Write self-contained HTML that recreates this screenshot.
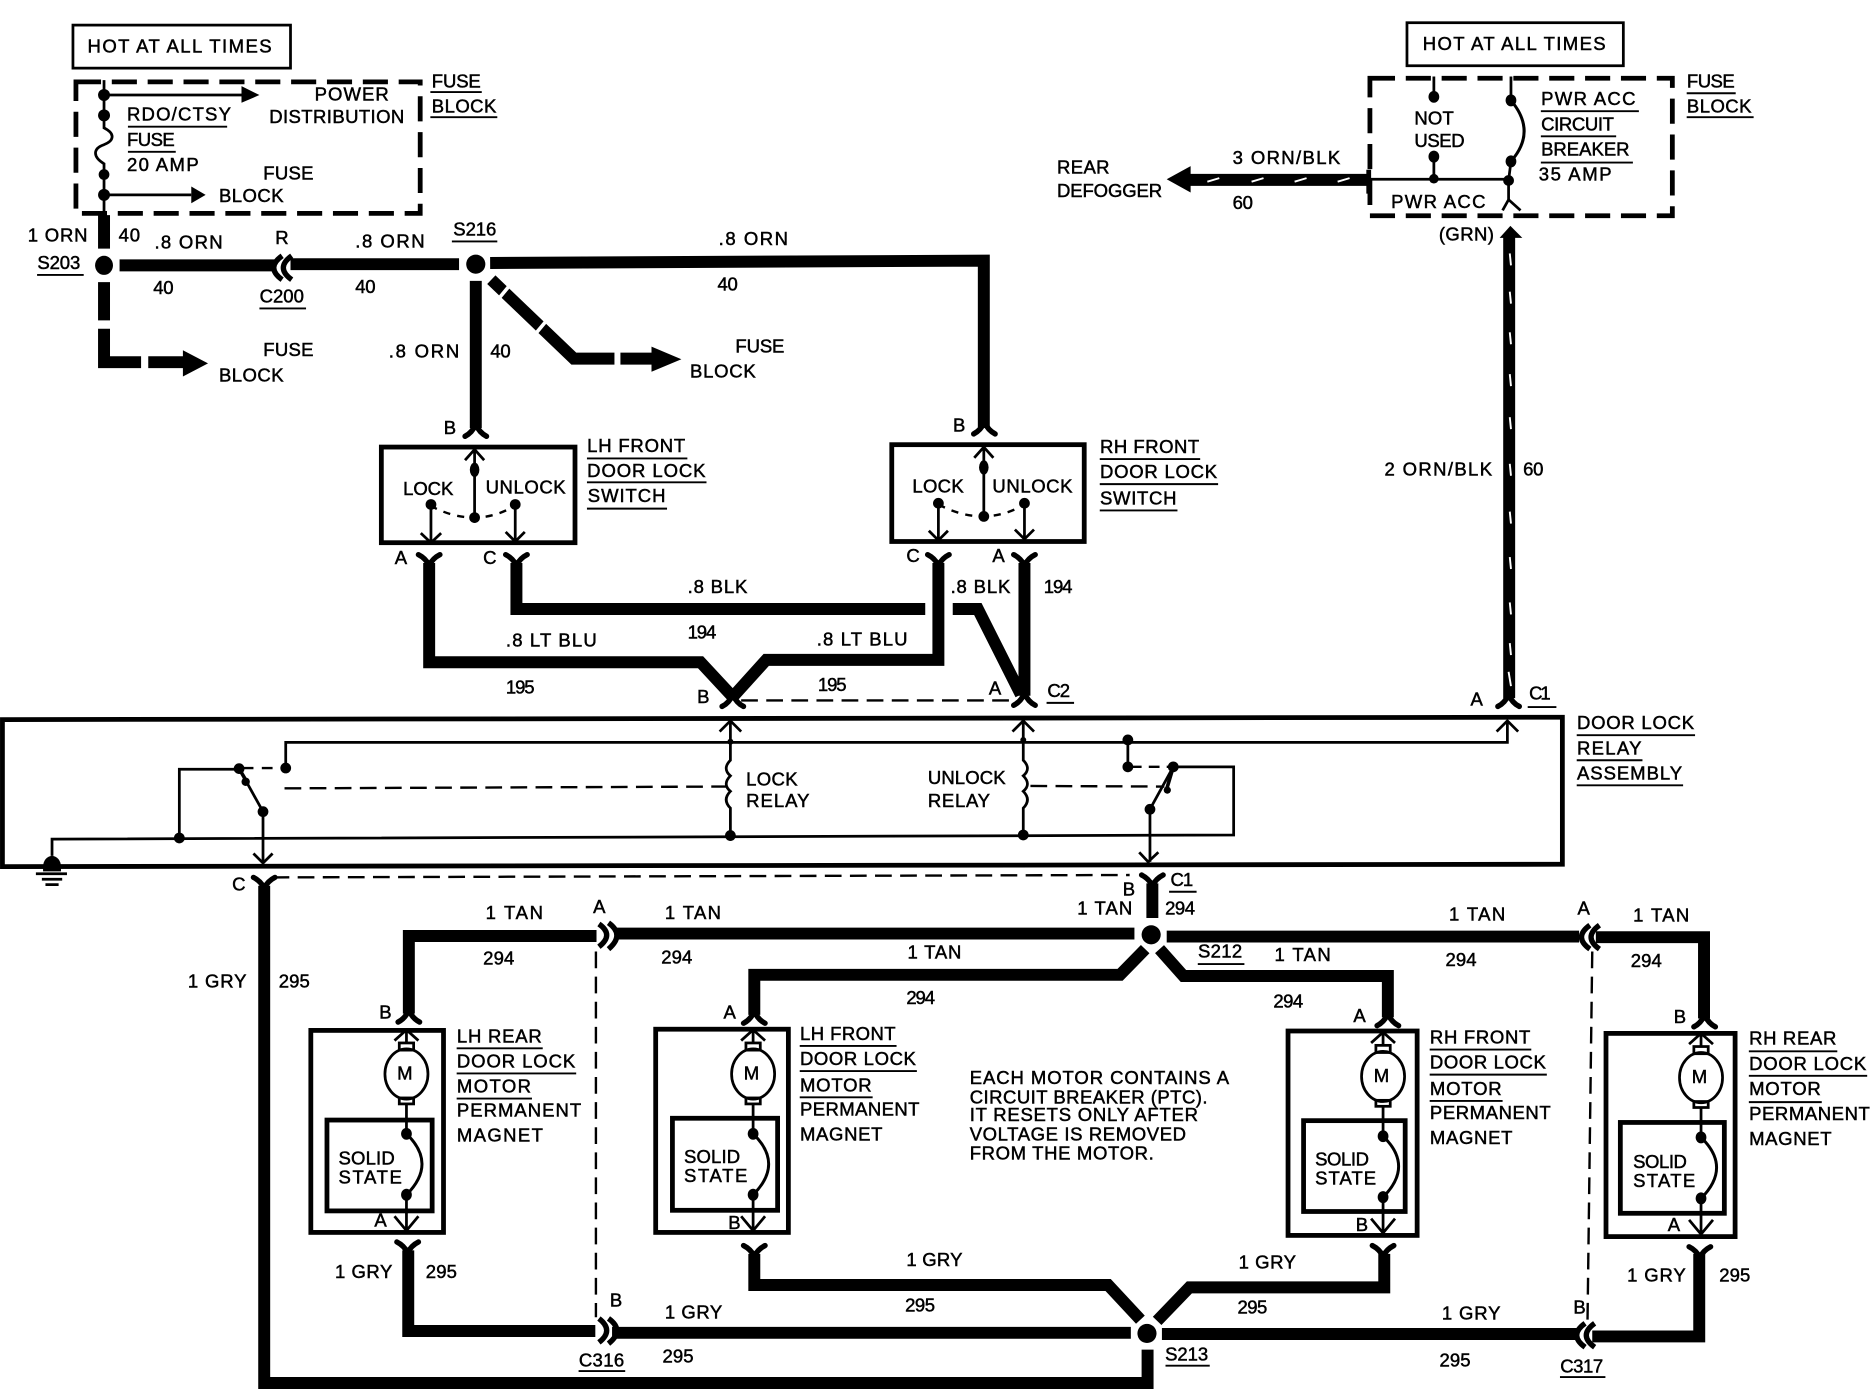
<!DOCTYPE html>
<html><head><meta charset="utf-8"><title>Door lock wiring diagram</title>
<style>
html,body{margin:0;padding:0;background:#fff}
svg{display:block}
text{font-family:"Liberation Sans",sans-serif;font-size:15.5px;fill:#000;stroke:#000;stroke-width:.4;transform:translate(-.8px,-1px)}
.w{fill:none;stroke:#000;stroke-width:10;stroke-linejoin:miter}
.t{fill:none;stroke:#000;stroke-width:2.3}
.b{fill:none;stroke:#000;stroke-width:4}
.d{fill:none;stroke:#000;stroke-width:2;stroke-dasharray:14 7}
.k{fill:none;stroke:#000;stroke-width:4;stroke-dasharray:21 9}
.u{fill:none;stroke:#000;stroke-width:1.6}
.f{fill:none;stroke:#000;stroke-width:4.5;stroke-linecap:round;stroke-linejoin:round}
.c{fill:none;stroke:#000;stroke-width:4.5}
.tick{stroke:#fff;stroke-width:1.6;fill:none}
.gap{stroke:#fff;stroke-width:3;fill:none}
</style></head><body>
<svg xmlns="http://www.w3.org/2000/svg" width="1872" height="1392" viewBox="0 0 1566 1164.5">
<rect width="1566" height="1165" fill="#fff"/>
<defs>
<path id="fd" class="f" d="M-9,7Q-3,4 0,-3Q3,4 9,7"/>
<path id="fu" class="f" d="M-9,-6Q-3,-3 0,3Q3,-3 9,-6"/>
<g id="m">
<ellipse class="t" rx="18" ry="21"/>
<rect class="t" x="-6" y="-26" width="12" height="6"/>
<rect class="t" x="-6" y="20" width="12" height="5"/>
<path class="t" d="M0,-37V-26M0,25V50M0,101V131M-10,-28L0,-37L10,-28M-10,119L0,131L10,119"/>
<path class="t" style="stroke-width:2.5" d="M0,50Q26,75 0,101"/>
<ellipse cx="0" cy="50" rx="4.500" ry="5"/>
<ellipse cx="0" cy="101" rx="4.500" ry="5"/>
</g>
</defs>

<!-- top-left fuse block -->
<rect class="t" x="61" y="21" width="182" height="36"/>
<rect class="k" x="63.500" y="68.500" width="288" height="110"/>
<path class="t" d="M87,67V107C97,112 95,118 87,121C78,124 77,131 87,137V180"/>
<circle cx="87" cy="79.500" r="5"/><circle cx="87" cy="96.500" r="5"/><circle cx="87" cy="146" r="4.500"/><circle cx="87" cy="163" r="5"/>
<path class="t" d="M87,79.500H204M87,163H160"/>
<path d="M202,72L217,79.500L202,86Z"/><path d="M160,156L172,163L160,170Z"/>
<text x="74" y="45" textLength="154">HOT AT ALL TIMES</text>
<text x="107" y="102" textLength="87">RDO/CTSY</text><path class="u" d="M107,106H190"/>
<text x="107" y="123" textLength="40">FUSE</text><path class="u" d="M107,127H147"/>
<text x="107" y="144" textLength="60">20 AMP</text>
<text x="264" y="85" textLength="62">POWER</text>
<text x="226" y="104" textLength="113">DISTRIBUTION</text>
<text x="221" y="151" textLength="42">FUSE</text>
<text x="184" y="170" textLength="54">BLOCK</text>
<text x="362" y="74" textLength="41">FUSE</text><path class="u" d="M360,77H403"/>
<text x="362" y="95" textLength="54">BLOCK</text><path class="u" d="M360,98H416"/>

<!-- S203 / S216 -->
<path class="w" d="M87,180V208"/>
<ellipse cx="87" cy="222" rx="7.500" ry="8"/>
<path class="w" d="M100,222H231"/>
<path class="c" d="M236,214Q222,224 236,234M244,214Q230,224 244,234"/>
<path class="w" d="M243,221H384"/>
<circle cx="398" cy="221" r="8"/>
<path class="w" d="M410,220L823,218V358"/>
<path class="w" d="M398,235V358"/>
<path class="w" d="M87,236V268M87,275V303H118"/>
<path class="w" d="M124,303H155"/><path d="M153,293L174,304L153,315Z"/>
<path class="w" d="M411,234L480,300H514"/>
<path class="gap" d="M427,238L417,250M459,266L449,278"/>
<path class="w" d="M519,300H547"/><path d="M545,290L570,300.500L545,311Z"/>
<use href="#fd" x="398" y="358"/><use href="#fd" x="823.500" y="356"/>
<text x="24" y="203" textLength="50">1 ORN</text>
<text x="100" y="203" textLength="18">40</text>
<text x="130" y="209" textLength="57">.8 ORN</text>
<text x="129" y="247" textLength="17">40</text>
<text x="231" y="205" textLength="11">R</text>
<text x="298" y="208" textLength="58">.8 ORN</text>
<text x="380" y="198" textLength="36">S216</text><path class="u" d="M378,202H416"/>
<text x="218" y="254" textLength="37">C200</text><path class="u" d="M217,258H256"/>
<text x="298" y="246" textLength="17">40</text>
<text x="32" y="226" textLength="36">S203</text><path class="u" d="M31,230H70"/>
<text x="602" y="206" textLength="58">.8 ORN</text>
<text x="601" y="244" textLength="17">40</text>
<text x="326" y="300" textLength="59">.8 ORN</text>
<text x="411" y="300" textLength="17">40</text>
<text x="221" y="299" textLength="42">FUSE</text>
<text x="184" y="320" textLength="54">BLOCK</text>
<text x="616" y="296" textLength="41">FUSE</text>
<text x="578" y="317" textLength="55">BLOCK</text>

<!-- switches -->
<rect class="b" x="319" y="374" width="162" height="80"/>
<rect class="b" x="746" y="372" width="161" height="81"/>
<path class="t" d="M397,376V433M389,385L397,376L405,385M360.500,422V454M352,446L360.500,454L369,446M431,422V453M423,445L431,453L439,445"/>
<path class="d" style="stroke-dasharray:6 6" d="M360,423Q397,443 431,423"/>
<ellipse cx="397" cy="393" rx="4" ry="6"/><circle cx="397" cy="433" r="4.500"/><circle cx="360.500" cy="422" r="4.500"/><circle cx="431" cy="422" r="4.500"/>
<path class="t" d="M823,374V432M815,383L823,374L831,383M785,421V452M777,444L785,452L793,444M857,421V451M849,443L857,451L865,443"/>
<path class="d" style="stroke-dasharray:6 6" d="M785,422Q823,442 857,422"/>
<ellipse cx="823" cy="391" rx="4" ry="6"/><circle cx="823" cy="432" r="4.500"/><circle cx="785" cy="421" r="4.500"/><circle cx="857" cy="421" r="4.500"/>
<text x="372" y="364" textLength="10">B</text><text x="798" y="362" textLength="10">B</text>
<text x="338" y="415" textLength="42">LOCK</text><text x="407" y="414" textLength="67">UNLOCK</text>
<text x="764" y="413" textLength="43">LOCK</text><text x="831" y="413" textLength="67">UNLOCK</text>
<text x="331" y="473" textLength="10">A</text><text x="405" y="473" textLength="9">C</text>
<text x="759" y="471" textLength="9">C</text><text x="831" y="471" textLength="10">A</text>
<text x="492" y="379" textLength="82">LH FRONT</text><path class="u" d="M491,383.500H575"/>
<text x="492" y="400" textLength="99">DOOR LOCK</text><path class="u" d="M491,403.500H591"/>
<text x="492.500" y="421" textLength="65">SWITCH</text><path class="u" d="M491,425.500H558"/>
<text x="921" y="380" textLength="83">RH FRONT</text><path class="u" d="M920,384H1004"/>
<text x="921" y="401" textLength="98">DOOR LOCK</text><path class="u" d="M920,405H1019"/>
<text x="921" y="423" textLength="64">SWITCH</text><path class="u" d="M920,427H985"/>

<!-- mid wires -->
<use href="#fu" x="359" y="470"/><use href="#fu" x="432" y="470"/><use href="#fu" x="785" y="470"/><use href="#fu" x="857" y="470"/>
<path class="w" d="M359,471V554H586L613,583"/>
<path class="w" d="M613,583L641,552H785V471"/>
<path class="w" d="M432,471V509.500H774"/>
<path class="w" d="M797,509.500H818L854,581"/>
<path class="w" d="M857,471V582"/>
<use href="#fd" x="613" y="584"/><use href="#fd" x="857" y="583"/>
<path class="d" d="M620,586H850"/>
<text x="576" y="497" textLength="50">.8 BLK</text>
<text x="576" y="535" textLength="24">194</text>
<text x="424" y="542" textLength="76">.8 LT BLU</text>
<text x="424" y="581" textLength="24">195</text>
<text x="684" y="541" textLength="76">.8 LT BLU</text>
<text x="685" y="579" textLength="24">195</text>
<text x="796" y="497" textLength="50">.8 BLK</text>
<text x="874" y="497" textLength="24">194</text>
<text x="584" y="589" textLength="9">B</text>
<text x="828" y="582" textLength="10">A</text>
<text x="877" y="584" textLength="19">C2</text><path class="u" d="M875.500,588H898.500"/>

<!-- relay assembly -->
<path class="b" d="M2,602L1307,600V723L2,725Z"/>
<path class="t" d="M239,642V621H1261V604M1252,612L1261,603L1270,612"/>
<path class="t" d="M150,701V643.500H200"/>
<path class="t" d="M43.500,716V702L1032,698.500V641.500H981.500"/>
<path class="d" style="stroke-dasharray:9 7" d="M203,642.500H239"/>
<path class="d" d="M238,659.500L608,658"/>
<path class="d" d="M862,657.500L974,658"/>
<path class="d" style="stroke-dasharray:9 6" d="M946,641.500H981"/>
<path class="t" d="M200,643L220,679V722M212,714L220,722L228,714"/>
<path class="t" style="stroke-width:3" d="M200,643L207,655"/>
<path class="t" d="M943.500,619V641.500M981.500,641.500L962,677V721M953,713L960.500,721L969,713"/>
<path class="t" style="stroke-width:3" d="M981.500,641.500L976,660"/>
<circle cx="200" cy="643" r="4.500"/><circle cx="205.500" cy="654" r="3.500"/><circle cx="220" cy="679" r="4.500"/><circle cx="239" cy="642.500" r="4.500"/><circle cx="150" cy="701" r="4.500"/>
<circle cx="943.500" cy="619" r="4.500"/><circle cx="943.500" cy="641.500" r="4.500"/><circle cx="981.500" cy="641.500" r="4.500"/><circle cx="976.500" cy="661" r="3"/><circle cx="962" cy="677" r="4.500"/>
<path class="t" d="M611,603V636q-7,7 0,13q-7,7 0,13q-7,7 0,14V699M602,612L611,603L620,612"/>
<path class="t" d="M856,603V636q7,7 0,13q7,7 0,13q7,7 0,14V699M847,612L856,603L865,612"/>
<circle cx="611" cy="699" r="4.500"/><circle cx="856" cy="698.500" r="4.500"/><circle cx="611" cy="620.500" r="2.500"/><circle cx="856" cy="619" r="2.500"/>
<path d="M36,725A7.500,9 0 0 1 51,725L51,729H36Z"/>
<path class="t" d="M30,731H56M35,735.500H52M38,740H49"/>
<text x="625" y="658" textLength="43">LOCK</text><text x="625" y="676" textLength="53">RELAY</text>
<text x="777" y="657" textLength="65">UNLOCK</text><text x="777" y="676" textLength="52">RELAY</text>
<text x="1320" y="611" textLength="98">DOOR LOCK</text><path class="u" d="M1319,615H1418"/>
<text x="1320" y="632" textLength="54">RELAY</text><path class="u" d="M1319,636H1374"/>
<text x="1320" y="653" textLength="88">ASSEMBLY</text><path class="u" d="M1319,657H1408"/>
<text x="1280" y="586" textLength="18">C1</text><path class="u" d="M1278,591.500H1302"/>
<text x="1231" y="591" textLength="10">A</text>

<!-- top-right fuse block -->
<rect class="t" x="1177" y="19" width="181" height="36"/>
<rect class="k" x="1146" y="65.500" width="253" height="115"/>
<text x="1191" y="43" textLength="153">HOT AT ALL TIMES</text>
<path class="t" d="M1199.500,64V81M1199.500,131V150M1145,150H1262M1264,64V84"/>
<path class="t" style="stroke-width:2.500" d="M1264,84Q1286,110 1264,135"/>
<path class="t" d="M1264,135L1262,151V167M1257,176L1262,167L1272,176"/>
<ellipse cx="1199.500" cy="81" rx="4.500" ry="5"/><ellipse cx="1199.500" cy="131" rx="4.500" ry="5"/><circle cx="1199.500" cy="149.500" r="4"/>
<ellipse cx="1264" cy="84" rx="4.500" ry="5"/><ellipse cx="1264" cy="135" rx="4.500" ry="5"/><circle cx="1262" cy="151" r="4.500"/>
<text x="1184" y="105" textLength="33">NOT</text>
<text x="1184" y="124" textLength="42">USED</text>
<text x="1164.500" y="175" textLength="79">PWR ACC</text>
<text x="1290" y="89" textLength="79">PWR ACC</text><path class="u" d="M1289,93H1371"/>
<text x="1290" y="110" textLength="61">CIRCUIT</text><path class="u" d="M1289,114H1352"/>
<text x="1290" y="131" textLength="74">BREAKER</text><path class="u" d="M1289,136H1366"/>
<text x="1288" y="152" textLength="61">35 AMP</text>
<text x="1412" y="74" textLength="40">FUSE</text><path class="u" d="M1411,78H1452"/>
<text x="1412" y="95" textLength="54">BLOCK</text><path class="u" d="M1411,98H1467"/>
<!-- defogger wire -->
<path class="w" d="M995,150.500H1144"/><path d="M976,150L996,139V161Z"/>
<path class="b" d="M1145,142V162"/>
<path class="tick" d="M1010,152L1020,149M1047,152L1057,149M1083,152L1093,149M1119,152L1129,149"/>
<text x="1032" y="138" textLength="90">3 ORN/BLK</text>
<text x="1032" y="176" textLength="17">60</text>
<text x="885" y="146" textLength="44">REAR</text>
<text x="885" y="166" textLength="88">DEFOGGER</text>
<!-- vertical orn/blk -->
<path class="w" d="M1262.500,197V584"/>
<path d="M1263.500,189L1273.500,199H1254.500Z"/>
<path class="tick" d="M1263,212L1264,222M1263,244L1264,254M1263,278L1264,288M1263,313L1264,323M1263,349L1264,359M1263,388L1264,398M1263,428L1264,438M1263,466L1264,476M1263,504L1264,514M1263,538L1264,548M1262,562L1264,574"/>
<use href="#fd" x="1262" y="584"/>
<text x="1204.500" y="202" textLength="46">(GRN)</text>
<text x="1159" y="399" textLength="90">2 ORN/BLK</text>
<text x="1275" y="399" textLength="17">60</text>

<!-- lower wires -->
<path class="d" d="M228,734L945,732"/>
<use href="#fu" x="221" y="740"/>
<path class="w" d="M221,741V1157H960V1129"/>
<use href="#fu" x="964" y="738"/>
<path class="w" d="M964,739V768"/>
<circle cx="963" cy="782" r="8"/>
<path class="w" d="M949,781H514"/>
<path class="c" d="M501,773Q514,782 501,792M509,772Q523,782 509,794"/>
<path class="w" d="M499,783H342V848"/>
<use href="#fd" x="342" y="848"/>
<path class="d" d="M498.500,796V1102"/>
<path class="w" d="M958,794L937,815.500H631V849"/>
<use href="#fd" x="631" y="849"/>
<path class="w" d="M970,794L990,816.500H1161V851"/>
<use href="#fd" x="1161" y="851"/>
<path class="w" d="M976,783.500H1321"/>
<path class="c" d="M1330,774Q1316,784 1330,794M1338,774Q1324,784 1338,794"/>
<path class="w" d="M1335,784H1425.500V852"/>
<use href="#fd" x="1426" y="852"/>
<path class="d" d="M1332,796L1328,1108"/>

<use href="#fu" x="341" y="1045"/>
<path class="w" d="M341.500,1046V1113.500H498"/>
<path class="c" d="M501,1103Q514,1113 501,1123M509,1103Q523,1113 509,1124"/>
<path class="w" d="M512,1115H946"/>
<circle cx="959.500" cy="1115.500" r="8"/>
<path class="w" d="M972,1116H1319"/>
<path class="c" d="M1326,1107Q1312,1117 1326,1127M1334,1107Q1320,1117 1334,1127"/>
<path class="w" d="M1332,1118H1421.500V1049"/>
<use href="#fu" x="1422" y="1049"/>
<use href="#fu" x="631" y="1048"/>
<path class="w" d="M631,1049V1075H927L954,1104"/>
<use href="#fu" x="1157" y="1048"/>
<path class="w" d="M968,1105L995,1077H1158V1049"/>

<!-- motors -->
<rect class="b" x="260" y="862" width="111" height="169"/>
<rect class="b" x="273.500" y="937" width="88" height="76"/>
<use href="#m" x="340" y="898.500"/>
<rect class="b" x="548.500" y="861" width="111" height="170"/>
<rect class="b" x="562.500" y="935.500" width="88" height="77"/>
<use href="#m" x="630" y="898.500"/>
<rect class="b" x="1077.500" y="862.500" width="108" height="171"/>
<rect class="b" x="1090.500" y="937.500" width="85" height="76"/>
<use href="#m" x="1157" y="900.500"/>
<rect class="b" x="1343.500" y="864.500" width="108" height="170"/>
<rect class="b" x="1355.500" y="939" width="87" height="76"/>
<use href="#m" x="1423" y="901.500"/>
<text x="333" y="904" textLength="14">M</text>
<text x="623" y="904" textLength="14">M</text>
<text x="1150" y="906" textLength="14">M</text>
<text x="1416" y="907" textLength="14">M</text>
<text x="284" y="975" textLength="47">SOLID</text><text x="284" y="991" textLength="53">STATE</text>
<text x="573" y="974" textLength="47">SOLID</text><text x="573" y="990" textLength="53">STATE</text>
<text x="1101" y="976" textLength="45">SOLID</text><text x="1101" y="992" textLength="51">STATE</text>
<text x="1367" y="978" textLength="45">SOLID</text><text x="1367" y="994" textLength="52">STATE</text>
<text x="318" y="853" textLength="10">B</text><text x="314" y="1027" textLength="10">A</text>
<text x="606" y="853" textLength="10">A</text><text x="610" y="1029" textLength="9">B</text>
<text x="1133" y="856" textLength="10">A</text><text x="1135" y="1031" textLength="9">B</text>
<text x="1401" y="857" textLength="9">B</text><text x="1396" y="1031" textLength="10">A</text>

<text x="383" y="873" textLength="71">LH REAR</text><path class="u" d="M382,877H454"/>
<text x="383" y="894" textLength="99">DOOR LOCK</text><path class="u" d="M382,898H482"/>
<text x="383" y="915" textLength="62">MOTOR</text><path class="u" d="M382,919H445"/>
<text x="383" y="935" textLength="104">PERMANENT</text>
<text x="383" y="956" textLength="72">MAGNET</text>
<text x="670" y="871" textLength="80">LH FRONT</text><path class="u" d="M669,875H750"/>
<text x="670" y="892" textLength="97">DOOR LOCK</text><path class="u" d="M669,896H767"/>
<text x="670" y="914" textLength="60">MOTOR</text><path class="u" d="M669,918H730"/>
<text x="670" y="934" textLength="100">PERMANENT</text>
<text x="670" y="955" textLength="69">MAGNET</text>
<text x="1197" y="874" textLength="84">RH FRONT</text><path class="u" d="M1196,878H1281"/>
<text x="1197" y="895" textLength="97">DOOR LOCK</text><path class="u" d="M1196,899H1294"/>
<text x="1197" y="917" textLength="60">MOTOR</text><path class="u" d="M1196,921H1257"/>
<text x="1197" y="937" textLength="101">PERMANENT</text>
<text x="1197" y="958" textLength="69">MAGNET</text>
<text x="1464" y="875" textLength="73">RH REAR</text><path class="u" d="M1463,879.500H1537"/>
<text x="1464" y="896" textLength="98">DOOR LOCK</text><path class="u" d="M1463,900H1562"/>
<text x="1464" y="917" textLength="60">MOTOR</text><path class="u" d="M1463,922H1524"/>
<text x="1464" y="938" textLength="101">PERMANENT</text>
<text x="1464" y="959" textLength="69">MAGNET</text>

<text x="812" y="908" textLength="217">EACH MOTOR CONTAINS A</text>
<text x="812" y="924" textLength="199">CIRCUIT BREAKER (PTC).</text>
<text x="812" y="939" textLength="191">IT RESETS ONLY AFTER</text>
<text x="812" y="955" textLength="181">VOLTAGE IS REMOVED</text>
<text x="812" y="971" textLength="154">FROM THE MOTOR.</text>

<!-- lower labels -->
<text x="195" y="746" textLength="10">C</text>
<text x="158" y="827" textLength="49">1 GRY</text>
<text x="234" y="827" textLength="26">295</text>
<text x="407" y="770" textLength="48">1 TAN</text>
<text x="405" y="808" textLength="26">294</text>
<text x="497" y="765" textLength="11">A</text>
<text x="557" y="770" textLength="47">1 TAN</text>
<text x="554" y="807" textLength="26">294</text>
<text x="760" y="803" textLength="45">1 TAN</text>
<text x="759" y="841" textLength="24">294</text>
<text x="902" y="766" textLength="46">1 TAN</text>
<text x="975.500" y="766" textLength="25">294</text>
<text x="940" y="750" textLength="8">B</text>
<text x="980" y="742" textLength="19">C1</text><path class="u" d="M978,746H1001"/>
<text x="1003" y="802" textLength="37">S212</text><path class="u" d="M1002,806.500H1041"/>
<text x="1067" y="805" textLength="47">1 TAN</text>
<text x="1066" y="844" textLength="25">294</text>
<text x="1213" y="771" textLength="47">1 TAN</text>
<text x="1210" y="809" textLength="26">294</text>
<text x="1320.500" y="766" textLength="10">A</text>
<text x="1367" y="772" textLength="47">1 TAN</text>
<text x="1365" y="810" textLength="26">294</text>
<text x="281" y="1070" textLength="48">1 GRY</text>
<text x="357" y="1070" textLength="26">295</text>
<text x="511" y="1094" textLength="9">B</text>
<text x="557" y="1104" textLength="48">1 GRY</text>
<text x="555" y="1141" textLength="26">295</text>
<text x="485" y="1144" textLength="38">C316</text><path class="u" d="M484,1147H523"/>
<text x="759" y="1060" textLength="47">1 GRY</text>
<text x="758" y="1098" textLength="25">295</text>
<text x="1037" y="1062" textLength="48">1 GRY</text>
<text x="1036" y="1100" textLength="25">295</text>
<text x="975.500" y="1139" textLength="36">S213</text><path class="u" d="M975,1142.500H1012"/>
<text x="1207" y="1105" textLength="49">1 GRY</text>
<text x="1205" y="1144" textLength="26">295</text>
<text x="1317" y="1100" textLength="8">B</text>
<text x="1306" y="1149" textLength="36">C317</text><path class="u" d="M1305,1152H1343"/>
<text x="1362" y="1073" textLength="49">1 GRY</text>
<text x="1439" y="1073" textLength="26">295</text>
</svg>
</body></html>
